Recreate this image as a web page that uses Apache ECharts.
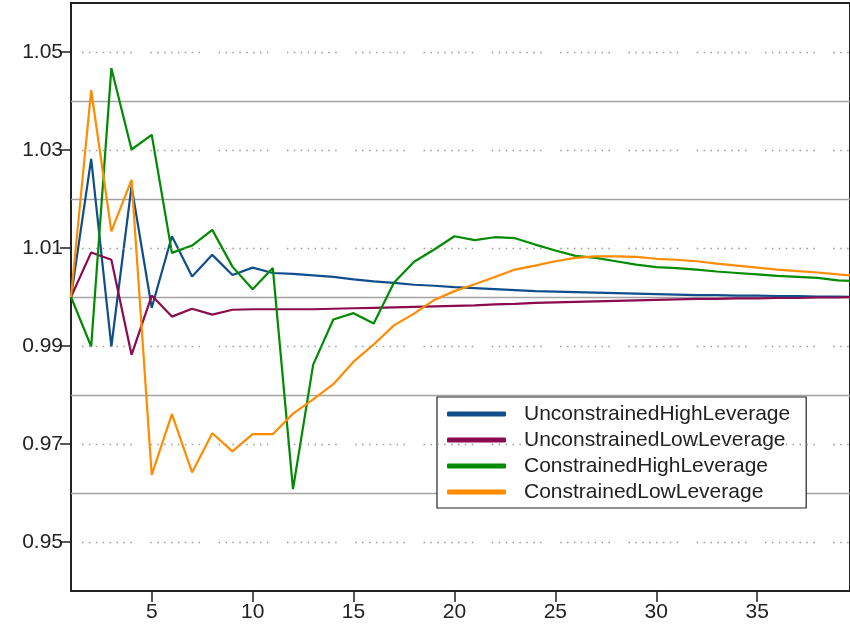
<!DOCTYPE html>
<html>
<head>
<meta charset="utf-8">
<script src="https://cdn.jsdelivr.net/npm/echarts@6/dist/echarts.min.js"></script>
<style>
  html, body { margin: 0; padding: 0; background: #ffffff; }
  #chart { width: 850px; height: 638px; }
</style>
</head>
<body>
<div id="chart"></div>
<script>
// Periods along the horizontal axis
const periods = [1, 2, 3, 4, 5, 6, 7, 8, 9, 10, 11, 12, 13, 14, 15, 16, 17, 18, 19, 20,
                 21, 22, 23, 24, 25, 26, 27, 28, 29, 30, 31, 32, 33, 34, 35, 36, 37, 38, 39, 40];

const unconstrainedHigh = [1.0000, 1.0282, 0.9899, 1.0226, 0.9978, 1.0124, 1.0042, 1.0086, 1.0045, 1.0060,
                           1.0049, 1.0047, 1.0044, 1.0041, 1.0036, 1.0032, 1.0029, 1.0025, 1.0023, 1.0020,
                           1.0018, 1.0016, 1.0014, 1.0012, 1.0011, 1.0010, 1.0009, 1.0008, 1.0007, 1.0006,
                           1.0005, 1.0004, 1.0004, 1.0003, 1.0003, 1.0002, 1.0002, 1.0001, 1.0001, 1.0000];

const unconstrainedLow = [1.0000, 1.0091, 1.0076, 0.9882, 1.0003, 0.9960, 0.9976, 0.9964, 0.9974, 0.9975,
                          0.9975, 0.9975, 0.9975, 0.9976, 0.9977, 0.9978, 0.9979, 0.9980, 0.9981, 0.9982,
                          0.9983, 0.9985, 0.9986, 0.9988, 0.9989, 0.9990, 0.9991, 0.9992, 0.9993, 0.9994,
                          0.9995, 0.9996, 0.9996, 0.9997, 0.9997, 0.9998, 0.9998, 0.9999, 0.9999, 1.0000];

const constrainedHigh = [1.0000, 0.9899, 1.0467, 1.0301, 1.0331, 1.0090, 1.0105, 1.0137, 1.0062, 1.0016,
                         1.0059, 0.9608, 0.9862, 0.9954, 0.9967, 0.9946, 1.0029, 1.0072, 1.0097, 1.0124,
                         1.0116, 1.0122, 1.0120, 1.0107, 1.0095, 1.0084, 1.0080, 1.0073, 1.0066, 1.0061,
                         1.0059, 1.0056, 1.0052, 1.0049, 1.0046, 1.0043, 1.0041, 1.0039, 1.0034, 1.0032];

const constrainedLow = [1.0000, 1.0422, 1.0134, 1.0239, 0.9637, 0.9761, 0.9642, 0.9722, 0.9685, 0.9720,
                        0.9720, 0.9762, 0.9791, 0.9822, 0.9868, 0.9903, 0.9942, 0.9966, 0.9994, 1.0012,
                        1.0026, 1.0041, 1.0056, 1.0064, 1.0073, 1.0080, 1.0083, 1.0083, 1.0082, 1.0078,
                        1.0076, 1.0073, 1.0068, 1.0064, 1.0060, 1.0056, 1.0053, 1.0050, 1.0046, 1.0043];

const seriesNames = ['UnconstrainedHighLeverage', 'UnconstrainedLowLeverage',
                     'ConstrainedHighLeverage', 'ConstrainedLowLeverage'];
const seriesValues = [unconstrainedHigh, unconstrainedLow, constrainedHigh, constrainedLow];
const seriesColors = ['#104E8B', '#8B0A50', '#008B00', '#FF8C00'];

const yTickLabels = [0.95, 0.97, 0.99, 1.01, 1.03, 1.05];
const xTickLabels = [5, 10, 15, 20, 25, 30, 35];

const FONT = '"Liberation Sans", Arial, sans-serif';
const INK = '#222222';

// dotted guide: 8 dots per group, then a wider gap
const dotPattern = [];
for (let k = 0; k < 7; k++) { dotPattern.push(1.5, 5.4); }
dotPattern.push(1.5, 18.5);

const chart = echarts.init(document.getElementById('chart'), null, { renderer: 'canvas' });

const lineSeries = seriesNames.map((name, s) => ({
  name: name,
  type: 'line',
  yAxisIndex: 0,
  z: 3,
  symbol: 'none',
  smooth: false,
  clip: true,
  lineStyle: { color: seriesColors[s], width: 2.2 },
  itemStyle: { color: seriesColors[s] },
  data: periods.map((p, i) => [p, seriesValues[s][i]])
}));

// dotted guides at each labelled tick, kept beneath the lines
const guideSeries = {
  name: 'guides',
  type: 'line',
  yAxisIndex: 0,
  z: 1,
  data: [],
  silent: true,
  markLine: {
    silent: true,
    symbol: ['none', 'none'],
    label: { show: false },
    emphasis: { disabled: true },
    lineStyle: {
      color: '#9a9a9a',
      width: 1.3,
      type: dotPattern,
      dashOffset: 57.3
    },
    data: yTickLabels.map(v => ({ yAxis: v }))
  }
};

chart.setOption({
  animation: false,
  backgroundColor: '#ffffff',
  grid: {
    left: 71, top: 3, right: -2, bottom: 47,
    show: true,
    borderColor: INK,
    borderWidth: 2,
    backgroundColor: 'transparent'
  },
  xAxis: {
    type: 'value',
    min: 1,
    max: 39.6,
    axisLine: { show: false },
    axisTick: {
      show: true, length: 11,
      customValues: xTickLabels,
      lineStyle: { color: INK, width: 1.5 }
    },
    axisLabel: {
      customValues: xTickLabels,
      margin: 11,
      color: INK,
      fontFamily: FONT,
      fontSize: 21
    },
    splitLine: { show: false }
  },
  yAxis: [
    {
      // labelled axis: ticks and labels on the odd hundredths
      type: 'value',
      min: 0.94,
      max: 1.06,
      axisLine: { show: false },
      axisTick: {
        show: true, length: 11,
        customValues: yTickLabels,
        lineStyle: { color: INK, width: 1.5 }
      },
      axisLabel: {
        customValues: yTickLabels,
        formatter: v => v.toFixed(2),
        margin: 8,
        color: INK,
        fontFamily: FONT,
        fontSize: 21
      },
      splitLine: { show: false }
    },
    {
      // solid reference lines on the even hundredths
      type: 'value',
      min: 0.94,
      max: 1.06,
      interval: 0.02,
      position: 'left',
      axisLine: { show: false },
      axisTick: { show: false },
      axisLabel: { show: false },
      splitLine: {
        show: true,
        showMinLine: false,
        showMaxLine: false,
        lineStyle: { color: '#a3a3a3', width: 1.4 }
      }
    }
  ],
  legend: {
    orient: 'vertical',
    left: 437,
    top: 397,
    padding: [6, 16, 5, 10],
    itemGap: 4,
    itemWidth: 59,
    itemHeight: 5,
    icon: 'roundRect',
    backgroundColor: '#ffffff',
    borderColor: INK,
    borderWidth: 1.2,
    borderRadius: 0,
    textStyle: {
      color: INK,
      fontFamily: FONT,
      fontSize: 21,
      lineHeight: 22,
      padding: [0, 0, 0, 13]
    },
    data: seriesNames
  },
  series: [guideSeries].concat(lineSeries)
});
</script>
</body>
</html>
